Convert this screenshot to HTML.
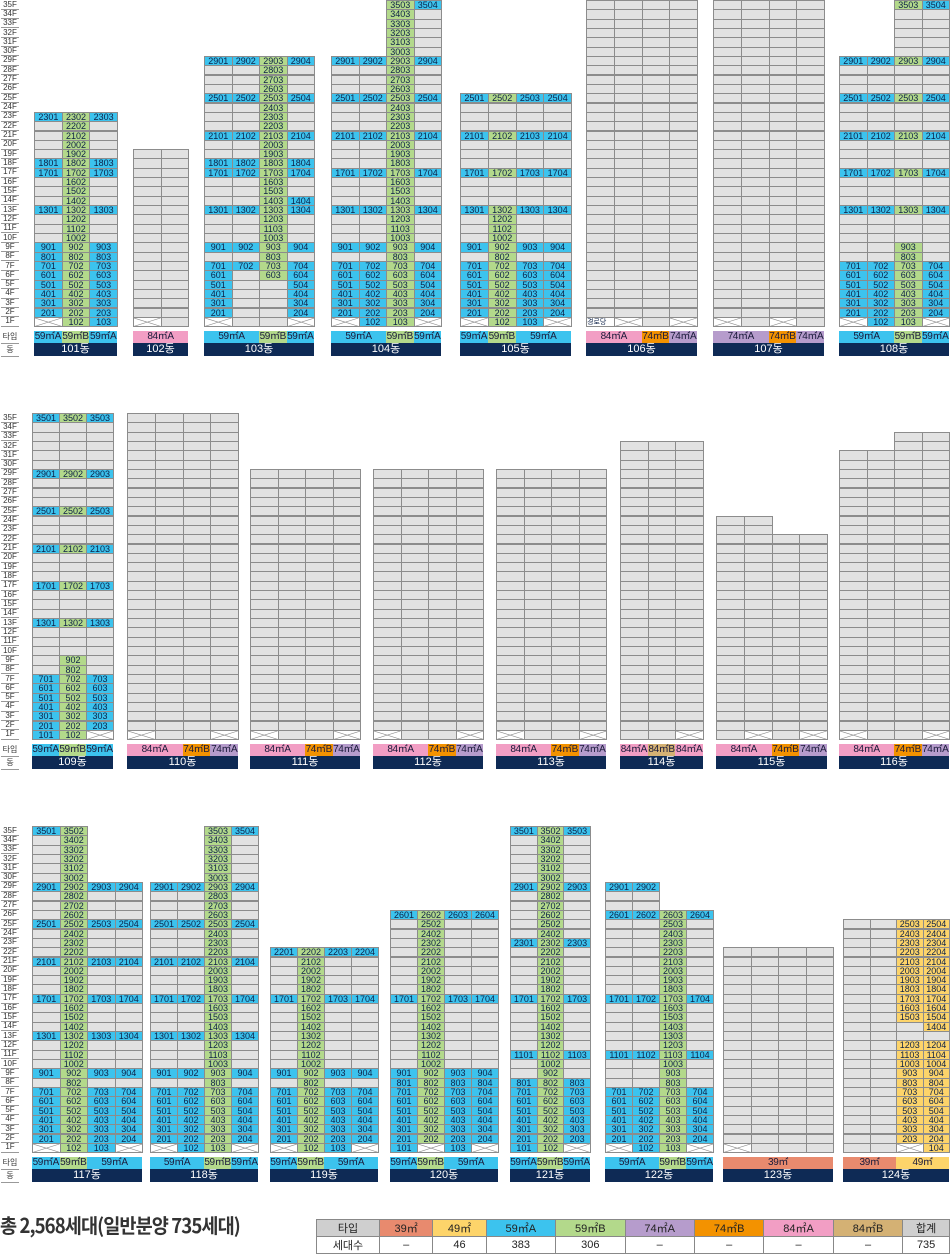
<!DOCTYPE html>
<html><head><meta charset="utf-8">
<style>
html,body{margin:0;padding:0;background:#fff;}
body{width:950px;height:1253px;position:relative;overflow:hidden;font-family:"Liberation Sans Narrow","Liberation Sans","Noto Sans CJK KR",sans-serif;}
.c{position:absolute;box-sizing:border-box;border:1px solid #8c8c8c;font-size:9px;text-align:center;color:#0d2147;overflow:hidden;white-space:nowrap;}
.fl{position:absolute;left:1px;width:18px;font-size:8px;line-height:8px;text-align:center;color:#333;border-bottom:1px solid #999;}
.t{position:absolute;box-sizing:border-box;font-size:10px;text-align:center;color:#1a1a3a;white-space:nowrap;overflow:hidden;letter-spacing:-0.4px;}
.n{position:absolute;background:#0e2a55;color:#fff;font-size:11px;text-align:center;font-family:"Liberation Sans","Noto Sans CJK KR",sans-serif;}
.lab{position:absolute;left:1px;width:18px;font-size:8px;text-align:center;color:#333;border-bottom:1px solid #999;font-family:"Noto Sans CJK KR",sans-serif;}
table{position:absolute;left:316px;top:1219px;width:634px;border-collapse:collapse;font-size:11px;font-family:"Liberation Sans","Noto Sans CJK KR",sans-serif;}
td{border:1px solid #888;text-align:center;height:16px;padding:0;color:#222;}
</style></head><body>
<div id="root"></div>
<div style="position:absolute;left:0;top:1211px;font-size:20px;font-weight:bold;color:#333;font-family:'Noto Sans CJK KR',sans-serif;transform:scaleX(0.93);transform-origin:0 0;white-space:nowrap;letter-spacing:-1px;line-height:28px;">총 2,568세대(일반분양 735세대)</div>
<table>
<tr style="height:17px"><td style="width:62px;background:#cfcfcf">타입</td><td style="background:#e88a6e">39㎡</td><td style="background:#fdd46a">49㎡</td><td style="background:#3cc3ee">59㎡A</td><td style="background:#b3d98b">59㎡B</td><td style="background:#b69ccc">74㎡A</td><td style="background:#f39200">74㎡B</td><td style="background:#f29ec4">84㎡A</td><td style="background:#d4b174">84㎡B</td><td style="background:#cfcfcf">합계</td></tr>
<tr style="height:16px"><td>세대수</td><td>–</td><td>46</td><td>383</td><td>306</td><td>–</td><td>–</td><td>–</td><td>–</td><td>735</td></tr>
</table>
<script>
var H=9.32;
var C={b:'#3cc3ee',g:'#b3d98b',y:'#fdd46a','.':'#e2e2e2'};
var TC={A59:'#3cc3ee',B59:'#b3d98b',A84:'#f29ec4',B84:'#d4b174',A74:'#b69ccc',B74:'#f39200',S39:'#e88a6e',Y49:'#fdd46a'};
var TL={A59:'59㎡A',B59:'59㎡B',A84:'84㎡A',B84:'84㎡B',A74:'74㎡A',B74:'74㎡B',S39:'39㎡',Y49:'49㎡'};
function rng(o,a,b,s){for(var f=a;f>=b;f--)o[f]=s;return o;}
function B(sec,x,x2,n,heights,rows,types,name){return {sec:sec,x:x,x2:x2,n:n,h:heights,rows:rows,types:types,name:name};}
var secTop=[0,413,826];
var bl=[];
var r;
r={};r[23]='bgb';rng(r,22,19,'.g.');r[18]='bgb';r[17]='bgb';rng(r,16,14,'.g.');r[13]='bgb';rng(r,12,10,'.g.');rng(r,9,2,'bgb');r[1]='xgb';
bl.push(B(0,34,117,3,[23,23,23],r,[['A59',1],['B59',1],['A59',1]],'101동'));
bl.push(B(0,133,188,2,[19,19],{1:'x.'},[['A84',2]],'102동'));
r={};r[29]='bbgb';rng(r,28,26,'..g.');r[25]='bbgb';rng(r,24,22,'..g.');r[21]='bbgb';rng(r,20,19,'..g.');r[18]='bbgb';r[17]='bbgb';rng(r,16,15,'..g.');r[14]='..gb';r[13]='bbgb';rng(r,12,10,'..g.');r[9]='bbgb';r[8]='..g.';r[7]='bbgb';r[6]='b.gb';rng(r,5,2,'b..b');r[1]='x..x';
bl.push(B(0,204,314,4,[29,29,29,29],r,[['A59',2],['B59',1],['A59',1]],'103동'));
function p104(){var r={};r[35]='  gb';rng(r,34,30,'  g.');[29,25,21,17,13,9].forEach(function(f){r[f]='bbgb';});
[28,27,26,24,23,22,20,19,18,16,15,14,12,11,10,8].forEach(function(f){r[f]='..g.';});rng(r,7,2,'bbgb');r[1]='xbgx';return r;}
bl.push(B(0,331,441,4,[29,29,35,35],p104(),[['A59',2],['B59',1],['A59',1]],'104동'));
r={};[25,21,17,13,9].forEach(function(f){r[f]='bgbb';});rng(r,12,10,'.g..');r[8]='.g..';rng(r,7,2,'bgbb');r[1]='xgbx';
bl.push(B(0,460,571,4,[25,25,25,25],r,[['A59',1],['B59',1],['A59',2]],'105동'));
bl.push(B(0,586,697,4,[35,35,35,35],{1:'kx.x'},[['A84',2],['B74',1],['A74',1]],'106동'));
bl.push(B(0,713,824,4,[35,35,35,35],{1:'x.x.'},[['A74',2],['B74',1],['A74',1]],'107동'));
r={};r[35]='  gb';[29,25,21,17,13].forEach(function(f){r[f]='bbgb';});r[9]='..g.';r[8]='..g.';rng(r,7,2,'bbgb');r[1]='xbgx';
bl.push(B(0,839,949,4,[29,29,35,35],r,[['A59',2],['B59',1],['A59',1]],'108동'));
r={};[35,29,25,21,17,13].forEach(function(f){r[f]='bgb';});r[9]='.g.';r[8]='.g.';rng(r,7,2,'bgb');r[1]='bgx';
bl.push(B(1,32,113,3,[35,35,35],r,[['A59',1],['B59',1],['A59',1]],'109동'));
bl.push(B(1,127,238,4,[35,35,35,35],{1:'x..x'},[['A84',2],['B74',1],['A74',1]],'110동'));
bl.push(B(1,250,360,4,[29,29,29,29],{1:'x..x'},[['A84',2],['B74',1],['A74',1]],'111동'));
bl.push(B(1,373,483,4,[29,29,29,29],{1:'x..x'},[['A84',2],['B74',1],['A74',1]],'112동'));
bl.push(B(1,496,606,4,[29,29,29,29],{1:'x..x'},[['A84',2],['B74',1],['A74',1]],'113동'));
bl.push(B(1,620,703,3,[32,32,32],{1:'..x'},[['A84',1],['B84',1],['A84',1]],'114동'));
bl.push(B(1,716,827,4,[24,24,22,22],{1:'.x.x'},[['A84',2],['B74',1],['A74',1]],'115동'));
bl.push(B(1,839,949,4,[31,31,33,33],{1:'x..x'},[['A84',2],['B74',1],['A74',1]],'116동'));
r={};r[35]='bg  ';rng(r,34,30,'.g  ');[29,25,21,17,13,9].forEach(function(f){r[f]='bgbb';});
[28,27,26,24,23,22,20,19,18,16,15,14,12,11,10,8].forEach(function(f){r[f]='.g..';});rng(r,7,2,'bgbb');r[1]='xgbx';
bl.push(B(2,32,142,4,[35,35,29,29],r,[['A59',1],['B59',1],['A59',2]],'117동'));
bl.push(B(2,150,258,4,[29,29,35,35],p104(),[['A59',2],['B59',1],['A59',1]],'118동'));
r={};r[22]='bgbb';rng(r,21,18,'.g..');r[17]='bgbb';rng(r,16,10,'.g..');r[9]='bgbb';r[8]='.g..';rng(r,7,2,'bgbb');r[1]='xgbx';
bl.push(B(2,270,378,4,[22,22,22,22],r,[['A59',1],['B59',1],['A59',2]],'119동'));
r={};r[26]='bgbb';rng(r,25,18,'.g..');r[17]='bgbb';rng(r,16,10,'.g..');rng(r,9,2,'bgbb');r[1]='bxbx';
bl.push(B(2,390,498,4,[26,26,26,26],r,[['A59',1],['B59',1],['A59',2]],'120동'));
r={};rng(r,34,1,'.g.');[35,29,23,17,11].forEach(function(f){r[f]='bgb';});rng(r,8,2,'bgb');r[1]='bgx';
bl.push(B(2,510,590,3,[35,35,35],r,[['A59',1],['B59',1],['A59',1]],'121동'));
r={};r[29]='bb  ';r[26]='bbgb';rng(r,25,18,'..g.');r[17]='bbgb';rng(r,16,12,'..g.');r[11]='bbgb';rng(r,10,8,'..g.');rng(r,7,2,'bbgb');r[1]='xbgx';
bl.push(B(2,605,713,4,[29,29,26,26],r,[['A59',2],['B59',1],['A59',1]],'122동'));
bl.push(B(2,723,833,4,[22,22,22,22],{1:'x...'},[['S39',4]],'123동'));
r={};rng(r,25,2,'..yy');r[14]='...y';r[13]='....';r[1]='..xy';
bl.push(B(2,843,949,4,[25,25,25,25],r,[['S39',2],['Y49',2]],'124동'));

var out=[];
secTop.forEach(function(t){
  for(var f=35;f>=1;f--){var y=t+(35-f)*H;out.push('<div class="fl" style="top:'+(y+0.5).toFixed(1)+'px;height:'+(H-1).toFixed(1)+'px">'+f+'F</div>');}
  out.push('<div class="lab" style="top:'+(t+331)+'px;height:12px;line-height:12px">타입</div>');
  out.push('<div class="lab" style="top:'+(t+344)+'px;height:12px;line-height:12px">동</div>');
});
bl.forEach(function(b){
  var t=secTop[b.sec],cw=(b.x2-b.x)/b.n;
  for(var i=0;i<b.n;i++){
    for(var f=b.h[i];f>=1;f--){
      var s=b.rows[f],ch=s?s.charAt(i):'.';if(ch==' ')continue;
      var x=b.x+i*cw,y=t+(35-f)*H;
      var st='left:'+x.toFixed(1)+'px;top:'+y.toFixed(1)+'px;width:'+(cw+1).toFixed(1)+'px;height:'+(H+1).toFixed(1)+'px;line-height:'+(H-0.5).toFixed(1)+'px;';
      if(ch=='x'){out.push('<div class="c" style="'+st+'background:#fff"><svg width="100%" height="100%" viewBox="0 0 10 10" preserveAspectRatio="none" style="display:block"><path d="M0 0L10 10M10 0L0 10" stroke="#888" stroke-width="0.6" fill="none" vector-effect="non-scaling-stroke"/></svg></div>');continue;}
      if(ch=='k'){out.push('<div class="c" style="'+st+'background:#fff;font-family:\'Noto Sans CJK KR\',sans-serif;font-size:7px;text-align:left">경로당</div>');continue;}
      var txt=(ch=='.')?'':(f*100+i+1);
      out.push('<div class="c" style="'+st+'background:'+C[ch]+'">'+txt+'</div>');
    }
  }
  var w=b.x2-b.x,x=b.x;
  b.types.forEach(function(tp){var tw=tp[1]*cw;out.push('<div class="t" style="left:'+x.toFixed(1)+'px;top:'+(t+331)+'px;width:'+tw.toFixed(1)+'px;height:12px;line-height:12px;background:'+TC[tp[0]]+'">'+TL[tp[0]]+'</div>');x+=tw;});
  out.push('<div class="n" style="left:'+b.x+'px;top:'+(t+343)+'px;width:'+w+'px;height:13px;line-height:13px">'+b.name+'</div>');
});
document.getElementById('root').innerHTML=out.join('');
</script>
</body></html>
